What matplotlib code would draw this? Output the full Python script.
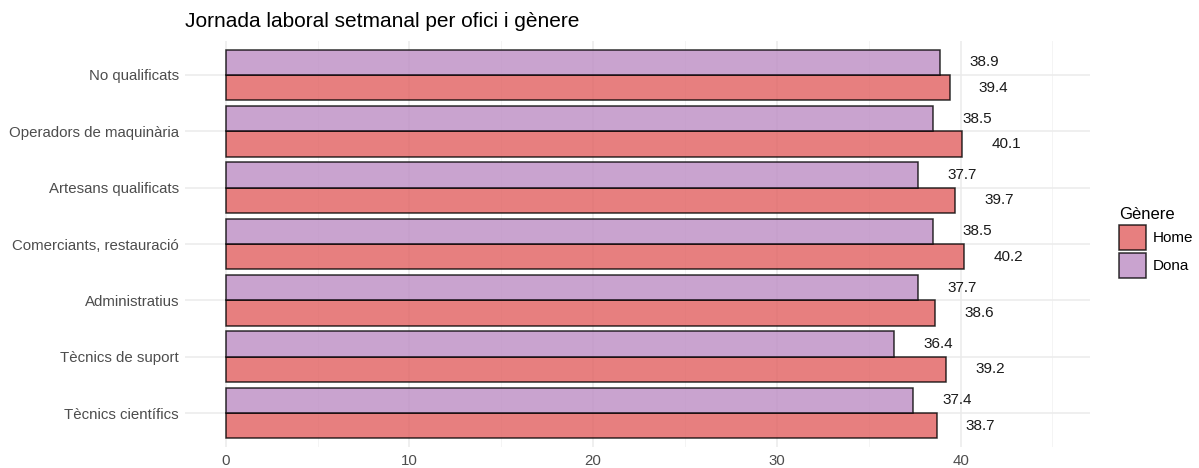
import numpy as np
import matplotlib
matplotlib.use("Agg")
import matplotlib.pyplot as plt
from matplotlib.patches import Patch

# dades
oficis = ["No qualificats", "Operadors de maquinària", "Artesans qualificats",
          "Comerciants, restauració", "Administratius", "Tècnics de suport",
          "Tècnics científics"]
home = [39.4, 40.1, 39.7, 40.2, 38.6, 39.2, 38.7]
dona = [38.9, 38.5, 37.7, 38.5, 37.7, 36.4, 37.4]
xticks = [0, 10, 20, 30, 40]

col_home = "#E15F5F"
col_dona = "#BC8CC4"

plt.rcParams["font.family"] = ["Liberation Sans", "DejaVu Sans"]

fig = plt.figure(figsize=(11.99, 4.68), dpi=100)
ax = fig.add_axes([0.154, 0.045, 0.755, 0.867])

y = np.arange(len(oficis))
w = 0.45

ax.barh(y + w / 2, home, height=w, color=col_home, alpha=0.8,
        edgecolor="black", linewidth=1.1, zorder=2)
ax.barh(y - w / 2, dona, height=w, color=col_dona, alpha=0.8,
        edgecolor="black", linewidth=1.1, zorder=2)

for yi, v in zip(y, home):
    ax.annotate(f"{v:.1f}", (v, yi + w / 2), xytext=(21, 0), textcoords="offset points",
                va="center", ha="left", fontsize=11, color="#1a1a1a")
for yi, v in zip(y, dona):
    ax.annotate(f"{v:.1f}", (v, yi - w / 2), xytext=(21, 0), textcoords="offset points",
                va="center", ha="left", fontsize=11, color="#1a1a1a")

ax.set_xlim(-2.24, 47.04)
ax.set_ylim(len(oficis) - 0.4, -0.6)
ax.set_yticks(y)
ax.set_yticklabels(oficis)
ax.set_xticks(xticks)
ax.set_xticks([5, 15, 25, 35, 45], minor=True)

ax.grid(True, which="major", color="#EBEBEB", linewidth=1.1, zorder=0)
ax.grid(True, which="minor", axis="x", color="#F2F2F2", linewidth=0.6, zorder=0)
ax.set_axisbelow(True)
for s in ax.spines.values():
    s.set_visible(False)
ax.tick_params(axis="both", which="both", length=0, labelsize=10.8, labelcolor="#4D4D4D")
ax.tick_params(axis="y", pad=4)
ax.tick_params(axis="x", pad=5)

fig.text(0.154, 0.953, "Jornada laboral setmanal per ofici i gènere", fontsize=15,
         ha="left", va="center", color="black")

handles = [Patch(facecolor=col_home, alpha=0.8, edgecolor="black", linewidth=1.1, label="Home"),
           Patch(facecolor=col_dona, alpha=0.8, edgecolor="black", linewidth=1.1, label="Dona")]
leg = fig.legend(handles=handles, title="Gènere", loc="upper left",
                 bbox_to_anchor=(0.928, 0.57), frameon=False, fontsize=11,
                 title_fontsize=12, handlelength=1.75, handleheight=2.2,
                 handletextpad=0.5, labelspacing=0.15, borderaxespad=0)
leg._legend_box.align = "left"

fig.savefig("out.png", dpi=100)
